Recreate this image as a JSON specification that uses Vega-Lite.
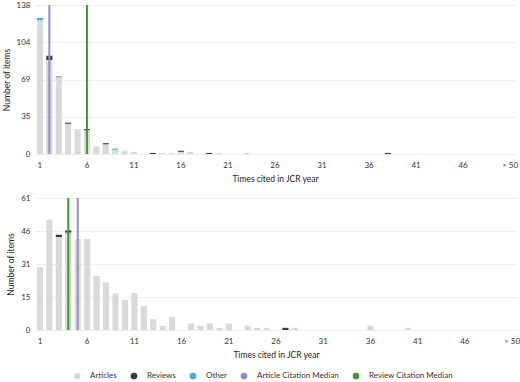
{
  "$schema": "https://vega.github.io/schema/vega-lite/v6.json",
  "padding": {"left": 2, "top": 1, "right": 0, "bottom": 2},
  "background": "white",
  "config": {
    "font": "Lato",
    "view": {"stroke": null},
    "axis": {
      "labelFontSize": 8,
      "titleFontSize": 8.5,
      "labelColor": "#333",
      "titleColor": "#222",
      "titleFontWeight": "normal",
      "gridColor": "#efefef",
      "domain": false,
      "ticks": false
    },
    "legend": {
      "labelFontSize": 8,
      "labelColor": "#333",
      "symbolType": "circle",
      "symbolSize": 45,
      "symbolStrokeWidth": 0,
      "symbolOpacity": 1
    },
    "concat": {"spacing": 11}
  },
  "datasets": {
    "top": [
      {"cat": "1", "type": "Articles", "count": 124},
      {"cat": "1", "type": "Other", "count": 2},
      {"cat": "2", "type": "Articles", "count": 87},
      {"cat": "2", "type": "Reviews", "count": 4},
      {"cat": "3", "type": "Articles", "count": 71},
      {"cat": "3", "type": "Other", "count": 1},
      {"cat": "4", "type": "Articles", "count": 28},
      {"cat": "4", "type": "Reviews", "count": 1},
      {"cat": "5", "type": "Articles", "count": 23},
      {"cat": "6", "type": "Articles", "count": 22},
      {"cat": "6", "type": "Reviews", "count": 1},
      {"cat": "7", "type": "Articles", "count": 7},
      {"cat": "8", "type": "Articles", "count": 9},
      {"cat": "8", "type": "Reviews", "count": 1},
      {"cat": "9", "type": "Articles", "count": 4},
      {"cat": "9", "type": "Other", "count": 1},
      {"cat": "10", "type": "Articles", "count": 3},
      {"cat": "11", "type": "Articles", "count": 2},
      {"cat": "13", "type": "Reviews", "count": 1},
      {"cat": "14", "type": "Articles", "count": 1},
      {"cat": "15", "type": "Articles", "count": 1},
      {"cat": "16", "type": "Articles", "count": 2},
      {"cat": "16", "type": "Reviews", "count": 1},
      {"cat": "17", "type": "Articles", "count": 2},
      {"cat": "19", "type": "Reviews", "count": 1},
      {"cat": "20", "type": "Articles", "count": 1},
      {"cat": "23", "type": "Articles", "count": 1},
      {"cat": "38", "type": "Reviews", "count": 1}
    ],
    "topMedian": [
      {"cat": "2", "type": "Article Citation Median"},
      {"cat": "6", "type": "Review Citation Median"}
    ],
    "bottom": [
      {"cat": "1", "type": "Articles", "count": 29},
      {"cat": "2", "type": "Articles", "count": 51},
      {"cat": "3", "type": "Articles", "count": 43},
      {"cat": "3", "type": "Reviews", "count": 1},
      {"cat": "4", "type": "Articles", "count": 45},
      {"cat": "4", "type": "Reviews", "count": 1},
      {"cat": "5", "type": "Articles", "count": 42},
      {"cat": "6", "type": "Articles", "count": 42},
      {"cat": "7", "type": "Articles", "count": 25},
      {"cat": "8", "type": "Articles", "count": 22},
      {"cat": "9", "type": "Articles", "count": 17},
      {"cat": "10", "type": "Articles", "count": 14},
      {"cat": "11", "type": "Articles", "count": 17},
      {"cat": "12", "type": "Articles", "count": 11},
      {"cat": "13", "type": "Articles", "count": 5},
      {"cat": "14", "type": "Articles", "count": 2},
      {"cat": "15", "type": "Articles", "count": 6},
      {"cat": "17", "type": "Articles", "count": 3},
      {"cat": "18", "type": "Articles", "count": 2},
      {"cat": "19", "type": "Articles", "count": 3},
      {"cat": "20", "type": "Articles", "count": 1},
      {"cat": "21", "type": "Articles", "count": 3},
      {"cat": "23", "type": "Articles", "count": 2},
      {"cat": "24", "type": "Articles", "count": 1},
      {"cat": "25", "type": "Articles", "count": 1},
      {"cat": "27", "type": "Reviews", "count": 1},
      {"cat": "28", "type": "Articles", "count": 1},
      {"cat": "36", "type": "Articles", "count": 2},
      {"cat": "40", "type": "Articles", "count": 1}
    ],
    "bottomMedian": [
      {"cat": "4", "type": "Review Citation Median"},
      {"cat": "5", "type": "Article Citation Median"}
    ]
  },
  "resolve": {"scale": {"color": "shared", "y": "independent", "x": "independent"}, "legend": {"color": "shared"}},
  "vconcat": [
    {
      "width": 480,
      "height": 149,
      "layer": [
        {
          "data": {"name": "top"},
          "mark": {"type": "bar"},
          "encoding": {
            "x": {"field": "cat", "type": "ordinal",
              "scale": {"domain": ["1","2","3","4","5","6","7","8","9","10","11","12","13","14","15","16","17","18","19","20","21","22","23","24","25","26","27","28","29","30","31","32","33","34","35","36","37","38","39","40","41","42","43","44","45","46","47","48","49","50","> 50"], "paddingInner": 0.35, "paddingOuter": 0.2},
              "axis": {"values": ["1","6","11","16","21","26","31","36","41","46","> 50"], "labelAngle": 0, "title": "Times cited in JCR year", "titlePadding": 5, "labelPadding": 7}},
            "y": {"field": "count", "type": "quantitative", "aggregate": "sum", "stack": "zero",
              "scale": {"domain": [0, 138], "nice": false},
              "axis": {"values": [0, 34.5, 69, 103.5, 138], "format": ".0f", "title": "Number of items", "titlePadding": 5, "labelPadding": 5}},
            "color": {"field": "type", "type": "nominal",
              "scale": {"domain": ["Articles", "Reviews", "Other", "Article Citation Median", "Review Citation Median"], "range": ["#d9d9d9", "#3a3a3a", "#4aa8dc", "#938bcb", "#3b9a2b"]},
              "legend": {"title": null, "orient": "none", "legendX": 38, "legendY": 367, "direction": "horizontal", "columnPadding": 13, "labelOffset": 9, "padding": 0}},
            "order": {"field": "type", "sort": "ascending"}
          }
        },
        {
          "data": {"name": "topMedian"},
          "mark": {"type": "rule", "strokeWidth": 2},
          "encoding": {
            "x": {"field": "cat", "type": "ordinal"},
            "color": {"field": "type", "type": "nominal"}
          }
        }
      ]
    },
    {
      "width": 482,
      "height": 132,
      "layer": [
        {
          "data": {"name": "bottom"},
          "mark": {"type": "bar"},
          "encoding": {
            "x": {"field": "cat", "type": "ordinal",
              "scale": {"domain": ["1","2","3","4","5","6","7","8","9","10","11","12","13","14","15","16","17","18","19","20","21","22","23","24","25","26","27","28","29","30","31","32","33","34","35","36","37","38","39","40","41","42","43","44","45","46","47","48","49","50","> 50"], "paddingInner": 0.35, "paddingOuter": 0.2},
              "axis": {"values": ["1","6","11","16","21","26","31","36","41","46","> 50"], "labelAngle": 0, "title": "Times cited in JCR year", "titlePadding": 5, "labelPadding": 7}},
            "y": {"field": "count", "type": "quantitative", "aggregate": "sum", "stack": "zero",
              "scale": {"domain": [0, 61], "nice": false},
              "axis": {"values": [0, 15.25, 30.5, 45.75, 61], "format": ".0f", "title": "Number of items", "titlePadding": 5, "labelPadding": 5}},
            "color": {"field": "type", "type": "nominal"},
            "order": {"field": "type", "sort": "ascending"}
          }
        },
        {
          "data": {"name": "bottomMedian"},
          "mark": {"type": "rule", "strokeWidth": 2},
          "encoding": {
            "x": {"field": "cat", "type": "ordinal"},
            "color": {"field": "type", "type": "nominal"}
          }
        }
      ]
    }
  ]
}
